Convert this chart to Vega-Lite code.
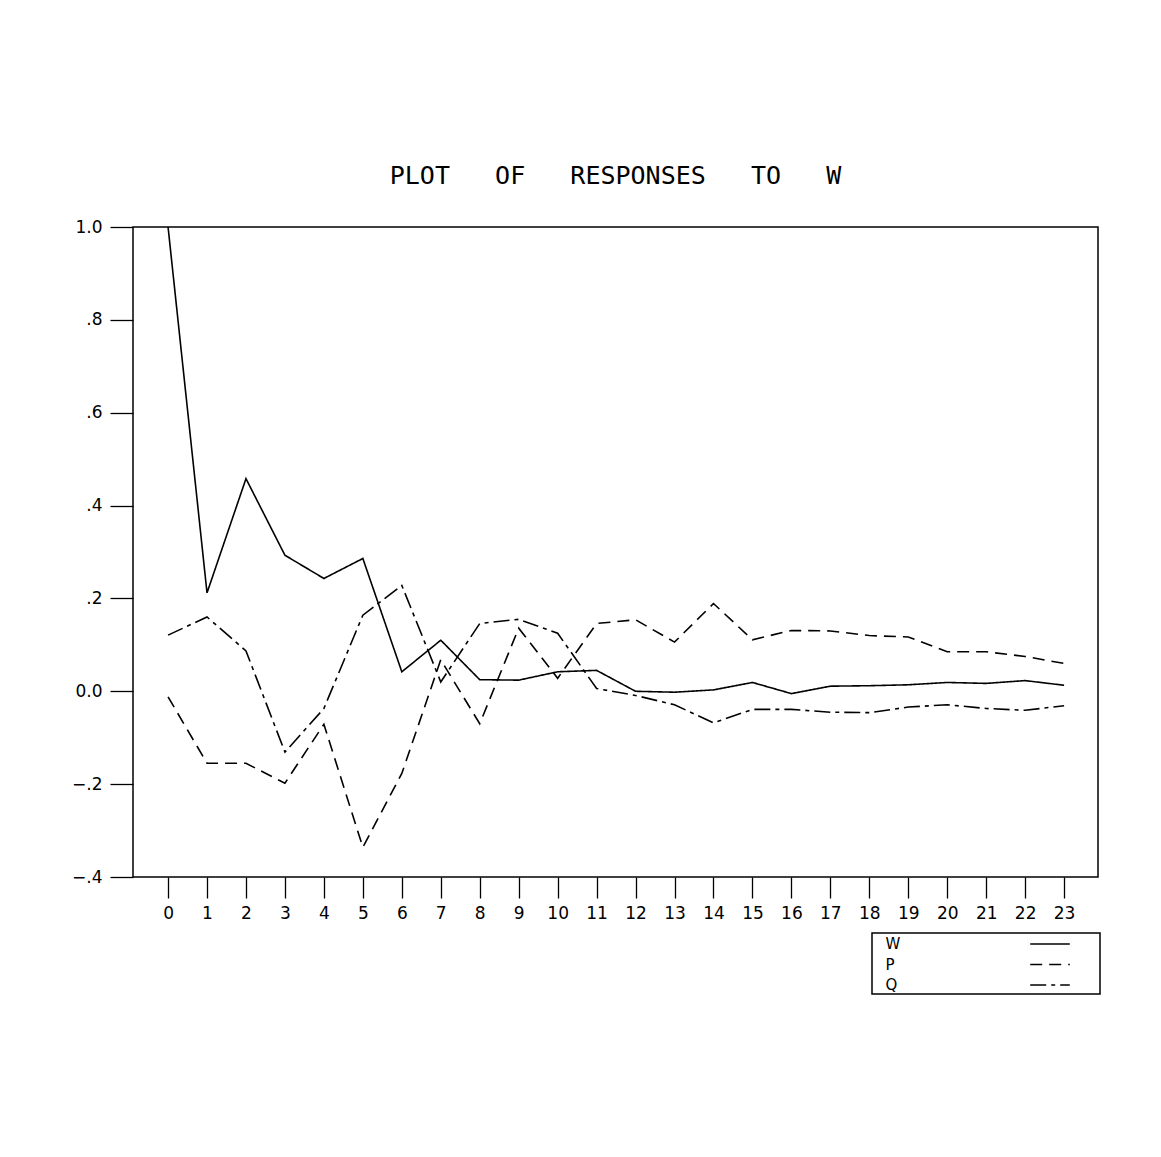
{
  "$schema": "https://vega.github.io/schema/vega-lite/v6.json",
  "autosize": {"type": "none"},
  "padding": {"left": 133, "top": 227, "right": 63, "bottom": 280},
  "width": 965,
  "height": 650,
  "background": "white",
  "title": {
    "text": "PLOT\u00a0\u00a0\u00a0OF\u00a0\u00a0\u00a0RESPONSES\u00a0\u00a0\u00a0TO\u00a0\u00a0\u00a0W",
    "font": "DejaVu Sans Mono",
    "fontSize": 25,
    "fontWeight": "normal",
    "color": "black",
    "anchor": "middle",
    "offset": 29
  },
  "datasets": {
    "resp": [
      {"h": 0, "s": "W", "v": 1.0}, {"h": 1, "s": "W", "v": 0.212}, {"h": 2, "s": "W", "v": 0.458}, {"h": 3, "s": "W", "v": 0.293},
      {"h": 4, "s": "W", "v": 0.243}, {"h": 5, "s": "W", "v": 0.286}, {"h": 6, "s": "W", "v": 0.042}, {"h": 7, "s": "W", "v": 0.110},
      {"h": 8, "s": "W", "v": 0.025}, {"h": 9, "s": "W", "v": 0.024}, {"h": 10, "s": "W", "v": 0.042}, {"h": 11, "s": "W", "v": 0.045},
      {"h": 12, "s": "W", "v": 0.000}, {"h": 13, "s": "W", "v": -0.002}, {"h": 14, "s": "W", "v": 0.003}, {"h": 15, "s": "W", "v": 0.019},
      {"h": 16, "s": "W", "v": -0.005}, {"h": 17, "s": "W", "v": 0.011}, {"h": 18, "s": "W", "v": 0.012}, {"h": 19, "s": "W", "v": 0.014},
      {"h": 20, "s": "W", "v": 0.019}, {"h": 21, "s": "W", "v": 0.017}, {"h": 22, "s": "W", "v": 0.023}, {"h": 23, "s": "W", "v": 0.013},
      {"h": 0, "s": "P", "v": -0.012}, {"h": 1, "s": "P", "v": -0.155}, {"h": 2, "s": "P", "v": -0.155}, {"h": 3, "s": "P", "v": -0.198},
      {"h": 4, "s": "P", "v": -0.071}, {"h": 5, "s": "P", "v": -0.336}, {"h": 6, "s": "P", "v": -0.177}, {"h": 7, "s": "P", "v": 0.068},
      {"h": 8, "s": "P", "v": -0.070}, {"h": 9, "s": "P", "v": 0.136}, {"h": 10, "s": "P", "v": 0.028}, {"h": 11, "s": "P", "v": 0.146},
      {"h": 12, "s": "P", "v": 0.154}, {"h": 13, "s": "P", "v": 0.106}, {"h": 14, "s": "P", "v": 0.189}, {"h": 15, "s": "P", "v": 0.111},
      {"h": 16, "s": "P", "v": 0.131}, {"h": 17, "s": "P", "v": 0.130}, {"h": 18, "s": "P", "v": 0.120}, {"h": 19, "s": "P", "v": 0.117},
      {"h": 20, "s": "P", "v": 0.085}, {"h": 21, "s": "P", "v": 0.085}, {"h": 22, "s": "P", "v": 0.075}, {"h": 23, "s": "P", "v": 0.060},
      {"h": 0, "s": "Q", "v": 0.121}, {"h": 1, "s": "Q", "v": 0.160}, {"h": 2, "s": "Q", "v": 0.087}, {"h": 3, "s": "Q", "v": -0.131},
      {"h": 4, "s": "Q", "v": -0.037}, {"h": 5, "s": "Q", "v": 0.164}, {"h": 6, "s": "Q", "v": 0.228}, {"h": 7, "s": "Q", "v": 0.020},
      {"h": 8, "s": "Q", "v": 0.146}, {"h": 9, "s": "Q", "v": 0.155}, {"h": 10, "s": "Q", "v": 0.125}, {"h": 11, "s": "Q", "v": 0.006},
      {"h": 12, "s": "Q", "v": -0.009}, {"h": 13, "s": "Q", "v": -0.029}, {"h": 14, "s": "Q", "v": -0.068}, {"h": 15, "s": "Q", "v": -0.039},
      {"h": 16, "s": "Q", "v": -0.039}, {"h": 17, "s": "Q", "v": -0.045}, {"h": 18, "s": "Q", "v": -0.046}, {"h": 19, "s": "Q", "v": -0.034},
      {"h": 20, "s": "Q", "v": -0.029}, {"h": 21, "s": "Q", "v": -0.037}, {"h": 22, "s": "Q", "v": -0.041}, {"h": 23, "s": "Q", "v": -0.031}
    ]
  },
  "layer": [
    {
      "mark": {"type": "rule", "color": "black", "strokeWidth": 1.5},
      "encoding": {"y": {"datum": 0, "type": "quantitative", "scale": {"domain": [-0.4, 1.0], "nice": false}}}
    },
    {
      "data": {"name": "resp"},
      "mark": {"type": "line", "color": "black", "strokeWidth": 1.6, "clip": true},
      "encoding": {
        "x": {
          "field": "h", "type": "quantitative",
          "scale": {"domain": [-0.9, 23.87], "nice": false, "zero": false},
          "axis": {
            "values": [0,1,2,3,4,5,6,7,8,9,10,11,12,13,14,15,16,17,18,19,20,21,22,23],
            "title": null, "grid": false, "domain": false,
            "tickSize": 21, "tickWidth": 1.3, "tickColor": "black",
            "labelFont": "DejaVu Sans", "labelFontSize": 17, "labelColor": "black",
            "labelPadding": 7, "labelFlush": false, "labelOverlap": false
          }
        },
        "y": {
          "field": "v", "type": "quantitative",
          "scale": {"domain": [-0.4, 1.0], "nice": false},
          "axis": {
            "values": [-0.4, -0.2, 0, 0.2, 0.4, 0.6, 0.8, 1.0],
            "labelExpr": "datum.value == 1 ? '1.0' : datum.value == 0 ? '0.0' : replace(format(datum.value, '.1f'), '0.', '.')",
            "title": null, "grid": false, "domain": false,
            "tickSize": 23, "tickWidth": 1.3, "tickColor": "black",
            "labelFont": "DejaVu Sans", "labelFontSize": 17, "labelColor": "black",
            "labelPadding": 8, "labelFlush": false, "labelOverlap": false
          }
        },
        "strokeDash": {
          "field": "s", "type": "nominal",
          "scale": {"domain": ["W", "P", "Q"], "range": [[1, 0], [12, 7], [16, 5, 4, 5]]},
          "legend": {
            "title": null,
            "orient": "none",
            "legendX": 739,
            "legendY": 706,
            "padding": 1,
            "strokeColor": "black",
            "symbolType": "M-2.2,0H2.2M5.1,0",
            "symbolSize": 324,
            "symbolStrokeColor": "black",
            "symbolStrokeWidth": 1.5,
            "symbolOffset": 167,
            "labelOffset": -174.5,
            "rowPadding": 2.5,
            "labelFont": "DejaVu Sans",
            "labelFontSize": 15,
            "labelColor": "black",
            "encode": {"legend": {"update": {"strokeWidth": {"value": 1.5}}}}
          }
        }
      }
    }
  ],
  "config": {
    "view": {"stroke": "black", "strokeWidth": 1.5},
    "axis": {"labelColor": "black"}
  }
}
